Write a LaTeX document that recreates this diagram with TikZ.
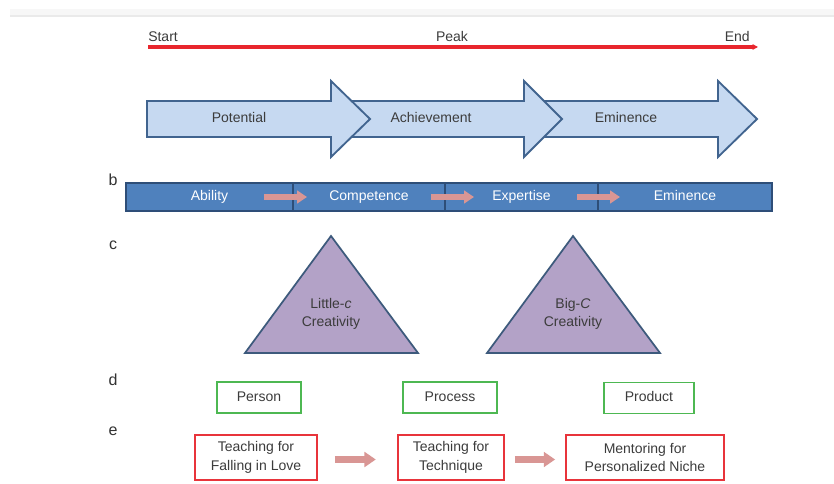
\documentclass[tikz,border=0pt]{standalone}
\usepackage{fontspec}
\setmainfont{Liberation Sans}
\usetikzlibrary{arrows.meta,positioning}
\definecolor{txt}{HTML}{3C3C3C}
\definecolor{tlred}{HTML}{E8262D}
\definecolor{arrfill}{HTML}{C6D9F1}
\definecolor{arrdraw}{HTML}{41648F}
\definecolor{barfill}{HTML}{4F81BD}
\definecolor{bardraw}{HTML}{2E4E78}
\definecolor{salmon}{HTML}{D99694}
\definecolor{trifill}{HTML}{B3A2C7}
\definecolor{tridraw}{HTML}{3D5A7C}
\definecolor{grnbox}{HTML}{4DB852}
\definecolor{redbox}{HTML}{E8343B}
\definecolor{band}{HTML}{F7F7F7}
\definecolor{bandline}{HTML}{EAEAEA}
\tikzset{
  oneline/.style={text height=7.6pt, text depth=2.2pt},
  lbl/.style={font=\fontsize{10.5}{14}\selectfont, text=txt, inner sep=0pt, align=center},
  letter/.style={font=\fontsize{12}{14}\selectfont, text=black!80, inner sep=0pt},
  bigarrow/.style={fill=arrfill, draw=arrdraw, line width=1.4pt, line join=miter},
  barsec/.style={rectangle, fill=barfill, draw=bardraw, line width=1pt, minimum height=21pt, inner sep=0pt,
    font=\fontsize{10.5}{14}\selectfont, text=white, oneline},
  salarrow/.style={draw=salmon, line width=3.8pt, -{Triangle[length=7.5pt,width=9.5pt]}},
  salarrowbig/.style={draw=salmon, line width=5pt, -{Triangle[length=8.5pt,width=11pt]}},
  tri/.style={fill=trifill, draw=tridraw, line width=1.3pt, line join=miter},
  gbox/.style={rectangle, draw=grnbox, line width=1.3pt, inner sep=0pt, font=\fontsize{10.5}{14}\selectfont, text=txt, oneline},
  rbox/.style={rectangle, draw=redbox, line width=1.3pt, inner sep=0pt, align=center, font=\fontsize{10.5}{14.2}\selectfont, text=txt},
}
\begin{document}
\begin{tikzpicture}[x=0.75pt,y=-0.75pt]
\useasboundingbox (0,0) rectangle (834,484);
\fill[white] (0,0) rectangle (834,484);
% top band
\fill[band] (10,9) rectangle (834,16);
\draw[bandline, line width=1.2pt] (10,16) -- (834,16);

% timeline
\coordinate (tlA) at (148,47);
\coordinate (tlB) at (758,47);
\draw[tlred, line width=2.3pt, -{Triangle[length=4pt,width=4pt]}] (tlA) -- (tlB);
\node[lbl, anchor=base west] (start) at (148,42) {Start};
\node[lbl, anchor=base] (peak) at (452,42) {Peak};
\node[lbl, anchor=base east] (end) at (750,42) {End};

% big arrows (drawn back to front)
\draw[bigarrow] (534,101) -- (718,101) -- (718,81) -- (757,119) -- (718,157) -- (718,137) -- (534,137) -- cycle;
\draw[bigarrow] (339,101) -- (524,101) -- (524,81) -- (562,119) -- (524,157) -- (524,137) -- (339,137) -- cycle;
\draw[bigarrow] (147,101) -- (331,101) -- (331,81) -- (370,119) -- (331,157) -- (331,137) -- (147,137) -- cycle;
\node[lbl, oneline] (potential) at (239,119) {Potential};
\node[lbl, oneline] (achievement) at (431,119) {Achievement};
\node[lbl, oneline] (eminenceA) at (626,119) {Eminence};

% row b
\node[letter] (lb) at (113,180) {b};
\node[barsec, minimum width=125.25pt] (ability) at (209.5,197) {Ability};
\node[barsec, minimum width=114pt] (competence) at (369,197) {Competence};
\node[barsec, minimum width=114.75pt] (expertise) at (521.5,197) {Expertise};
\node[barsec, minimum width=130.5pt] (eminenceB) at (685,197) {Eminence};
\coordinate (b1s) at (264,197); \coordinate (b1e) at (307,197);
\coordinate (b2s) at (431,197); \coordinate (b2e) at (474,197);
\coordinate (b3s) at (577,197); \coordinate (b3e) at (620,197);
\draw[salarrow] (b1s) -- (b1e);
\draw[salarrow] (b2s) -- (b2e);
\draw[salarrow] (b3s) -- (b3e);

% row c
\node[letter] (lc) at (113,245) {c};
\draw[tri] (245,353) -- (331,236) -- (418,353) -- cycle;
\draw[tri] (487,353) -- (573,236) -- (660,353) -- cycle;
\node[lbl, font=\fontsize{10.5}{13}\selectfont] (littlec) at (331,314) {Little-\textit{c}\\Creativity};
\node[lbl, font=\fontsize{10.5}{13}\selectfont] (bigc) at (573,314) {Big-\textit{C}\\Creativity};

% row d
\node[letter] (ld) at (113,380) {d};
\node[gbox, minimum width=63pt, minimum height=23.25pt] (person) at (259,397.5) {Person};
\node[gbox, minimum width=70.5pt, minimum height=23.25pt] (process) at (450,397.5) {Process};
\node[gbox, minimum width=67.5pt, minimum height=23.25pt] (product) at (649,398) {Product};

% row e
\node[letter] (le) at (113,431) {e};
\node[rbox, minimum width=91.5pt, minimum height=33.75pt] (love) at (256,457.5) {Teaching for\\Falling in Love};
\node[rbox, minimum width=79.5pt, minimum height=33.75pt] (technique) at (451,457.5) {Teaching for\\Technique};
\node[rbox, minimum width=118.5pt, minimum height=33.75pt] (niche) at (645,457.5) {Mentoring for\\Personalized Niche};
\draw[salarrowbig] ([xshift=12.75pt,yshift=-1.5pt]love.east) -- ([xshift=-16pt,yshift=-1.5pt]technique.west);
\draw[salarrowbig] ([xshift=7.5pt,yshift=-1.5pt]technique.east) -- ([xshift=-7.5pt,yshift=-1.5pt]niche.west);
\end{tikzpicture}
\end{document}
